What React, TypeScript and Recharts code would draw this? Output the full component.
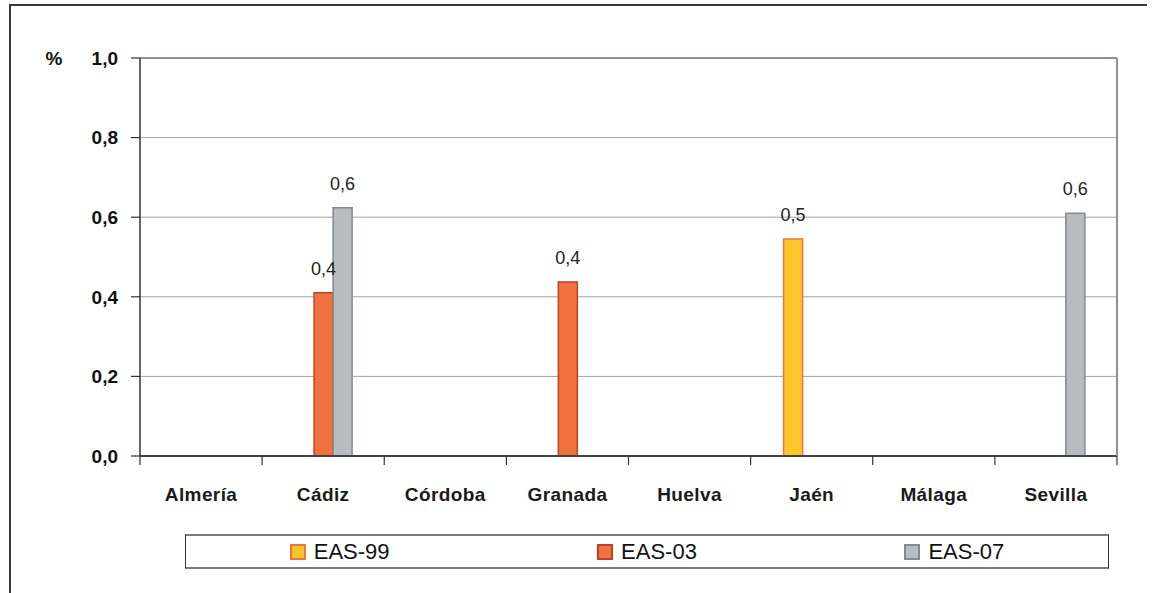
import {
  BarChart, Bar, XAxis, YAxis, CartesianGrid, Legend, ReferenceLine, LabelList,
} from "recharts";

const provincias = ["Almería", "Cádiz", "Córdoba", "Granada", "Huelva", "Jaén", "Málaga", "Sevilla"];
const eas99 = [null, null, null, null, null, 0.545, null, null];
const eas03 = [null, 0.41, null, 0.437, null, null, null, null];
const eas07 = [null, 0.624, null, null, null, null, null, 0.61];
const yTicks = [0, 0.2, 0.4, 0.6, 0.8, 1];

const series = [
  { key: "eas99", name: "EAS-99", fill: "#ffc62b", stroke: "#f2733f" },
  { key: "eas03", name: "EAS-03", fill: "#f2723e", stroke: "#c43e26" },
  { key: "eas07", name: "EAS-07", fill: "#b8bcc0", stroke: "#838b8b" },
];

const data = provincias.map((p, i) => ({
  provincia: p,
  eas99: eas99[i],
  eas03: eas03[i],
  eas07: eas07[i],
}));

const FONT = "'Liberation Sans Narrow', 'Liberation Sans', Arial, sans-serif";
const fmt = (v: number) => v.toFixed(1).replace(".", ",");

const TICK_SIZE = 9;
const TICK_MARGIN = 23;

function XTick(props: any) {
  const { x, y, payload, index, visibleTicksCount } = props;
  const half = payload.offset ?? 0;
  const axisY = y - TICK_MARGIN - TICK_SIZE;
  const last = index === (visibleTicksCount ?? provincias.length) - 1;
  return (
    <g>
      <line x1={x - half} x2={x - half} y1={axisY} y2={axisY + TICK_SIZE} stroke="#333" strokeWidth={1.2} />
      {last && <line x1={x + half} x2={x + half} y1={axisY} y2={axisY + TICK_SIZE} stroke="#333" strokeWidth={1.2} />}
      <text x={x} y={y} dy="0.71em" textAnchor="middle" fill="#1a1a1a"
        style={{ fontFamily: FONT, fontSize: 19, fontWeight: 700, letterSpacing: 0.4 }}>
        {payload.value}
      </text>
    </g>
  );
}

function ValueLabel(props: any) {
  const { x, y, width, value } = props;
  if (value == null) return null;
  return (
    <text x={x + width / 2} y={y - 18} textAnchor="middle" fill="#222"
      style={{ fontFamily: FONT, fontSize: 18 }}>
      {fmt(value)}
    </text>
  );
}

function LegendBox() {
  return (
    <div style={{
      width: 922, height: 31, display: "flex", boxSizing: "content-box",
      borderTop: "2px solid #7c7c7c", borderBottom: "2px solid #7c7c7c",
      borderLeft: "1.5px solid #333", borderRight: "1.5px solid #333",
    }}>
      {series.map((s) => (
        <div key={s.key} style={{ flex: 1, display: "flex", alignItems: "center", justifyContent: "center", gap: 8 }}>
          <span style={{ width: 12, height: 12, background: s.fill, border: `2px solid ${s.stroke}`, display: "inline-block" }} />
          <span style={{ fontFamily: FONT, fontSize: 22, color: "#111", lineHeight: "31px" }}>{s.name}</span>
        </div>
      ))}
    </div>
  );
}

export default function App() {
  return (
    <div style={{ position: "absolute", left: 0, top: 0, width: 1155, height: 593, background: "#fff", overflow: "hidden" }}>
      <div style={{ position: "absolute", left: 9, top: 4, width: 1136, height: 600, borderTop: "2px solid #3a3a3a", borderLeft: "2px solid #3a3a3a" }} />
      <div style={{ position: "absolute", left: 0, top: 0 }}>
        <BarChart width={1155} height={593} data={data}
          margin={{ top: 58, right: 0, bottom: 0, left: 0 }}
          barCategoryGap="27%" barGap={0}>
          <CartesianGrid vertical={false} stroke="#a3a3a3" strokeWidth={1} />
          <XAxis dataKey="provincia" height={137} tickLine={false} tickSize={TICK_SIZE} tickMargin={TICK_MARGIN}
            axisLine={{ stroke: "#3c4444", strokeWidth: 2 }} tick={<XTick />} interval={0} />
          <YAxis width={140} domain={[0, 1]} ticks={yTicks} tickFormatter={fmt}
            tickSize={TICK_SIZE} tickMargin={13}
            tickLine={{ stroke: "#333", strokeWidth: 1.2 }}
            axisLine={{ stroke: "#333", strokeWidth: 1.5 }}
            tick={{ fill: "#111", fontSize: 19, fontWeight: 700, fontFamily: FONT }}
            label={({ viewBox }: any) => (
              <text x={viewBox.x + 54} y={viewBox.y} dy="0.35em" textAnchor="middle" fill="#111"
                style={{ fontFamily: FONT, fontSize: 19, fontWeight: 700 }}>%</text>
            )} />
          <YAxis yAxisId="r" orientation="right" width={38} domain={[0, 1]} tick={false} tickLine={false}
            axisLine={{ stroke: "#8a9292", strokeWidth: 2 }} />
          <ReferenceLine y={1} stroke="#8a9292" strokeWidth={2} />
          {series.map((s) => (
            <Bar key={s.key} dataKey={s.key} name={s.name} fill={s.fill} stroke={s.stroke} strokeWidth={1.5}
              isAnimationActive={false}>
              <LabelList dataKey={s.key} content={<ValueLabel />} />
            </Bar>
          ))}
          <Legend layout="horizontal" verticalAlign="middle" align="center"
            wrapperStyle={{ position: "absolute", left: 185, top: 534, width: "auto" }}
            content={() => <LegendBox />} />
        </BarChart>
      </div>
    </div>
  );
}
